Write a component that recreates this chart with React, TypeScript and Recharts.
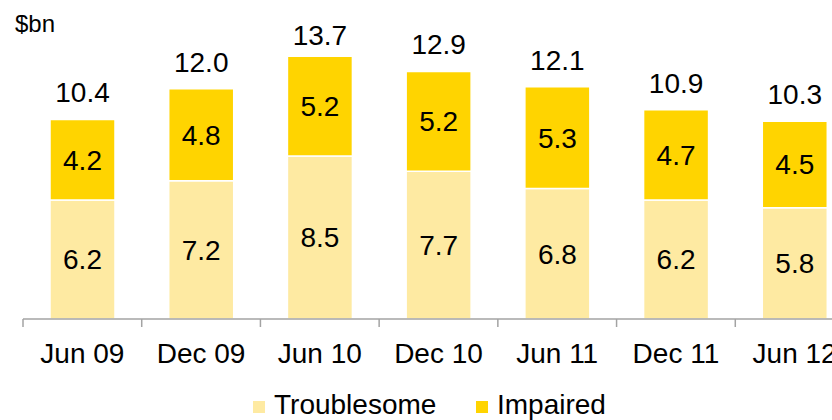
import { Bar, BarChart, LabelList, Legend, XAxis, YAxis } from "recharts"

const periods = ["Jun 09", "Dec 09", "Jun 10", "Dec 10", "Jun 11", "Dec 11", "Jun 12"]
const troublesome = [6.2, 7.2, 8.5, 7.7, 6.8, 6.2, 5.8]
const impaired = [4.2, 4.8, 5.2, 5.2, 5.3, 4.7, 4.5]
const totals = [10.4, 12.0, 13.7, 12.9, 12.1, 10.9, 10.3]
const seriesNames = ["Troublesome", "Impaired"]

const data = periods.map((period, i) => ({
  period,
  troublesome: troublesome[i],
  impaired: impaired[i],
  total: totals[i],
}))

const FONT = '"Liberation Sans", Arial, Helvetica, sans-serif'
const LIGHT = "#FEEAA2"
const GOLD = "#FFD400"
const AXIS = "#a3a3a3"

const CHART_W = 860
const CHART_H = 420
const MARGIN = { top: 12, right: 6, left: 23, bottom: 0 }
const BAND = (CHART_W - MARGIN.left - MARGIN.right) / periods.length

const CategoryTick = (props: any) => {
  const { x, y, payload } = props
  const edge = x - BAND / 2
  return (
    <g>
      <line x1={edge} x2={edge} y1={y} y2={y + 8} stroke={AXIS} strokeWidth={1.5} />
      <text x={x} y={y + 44} textAnchor="middle" fill="#000" fontSize={28} fontFamily={FONT}>
        {payload.value}
      </text>
    </g>
  )
}

const TotalLabel = (props: any) => {
  const { x, y, width, value } = props
  // keep the label inside the top of the plot like the original
  const baseline = Math.max(Number(y) - 17, 45)
  return (
    <text x={Number(x) + Number(width) / 2} y={baseline} textAnchor="middle" fill="#000" fontSize={28} fontFamily={FONT}>
      {Number(value).toFixed(1)}
    </text>
  )
}

const legendX = [253, 476]

const LegendContent = (props: any) => {
  const items = [...(props.payload || [])].sort(
    (a: any, b: any) => seriesNames.indexOf(a.value) - seriesNames.indexOf(b.value)
  )
  return (
    <div style={{ position: "relative", width: 832, height: 420 }}>
      {items.map((entry: any, i: number) => (
        <div key={entry.value} style={{ position: "absolute", left: legendX[i], top: 395 }}>
          <span
            style={{
              position: "absolute",
              left: 0,
              top: 6,
              width: 12,
              height: 12,
              background: entry.color,
            }}
          />
          <span
            style={{
              position: "absolute",
              left: 21,
              top: -6,
              fontFamily: FONT,
              fontSize: 28,
              lineHeight: "32px",
              color: "#000",
              whiteSpace: "nowrap",
            }}
          >
            {entry.value}
          </span>
        </div>
      ))}
    </div>
  )
}

export default function App() {
  return (
    <div
      style={{
        position: "fixed",
        left: 0,
        top: 0,
        width: 832,
        height: 420,
        overflow: "hidden",
        background: "#fff",
      }}
    >
      <span
        style={{
          position: "absolute",
          left: 15,
          top: 10,
          fontFamily: FONT,
          fontSize: 24,
          lineHeight: "28px",
          color: "#000",
          zIndex: 2,
        }}
      >
        $bn
      </span>
      <BarChart width={CHART_W} height={CHART_H} data={data} margin={MARGIN}>
        <XAxis
          dataKey="period"
          height={101}
          interval={0}
          tickLine={false}
          tickSize={0}
          tickMargin={0}
          axisLine={{ stroke: AXIS, strokeWidth: 1.5 }}
          tick={<CategoryTick />}
        />
        <YAxis hide domain={[0, 16]} />
        <Legend
          layout="horizontal"
          verticalAlign="middle"
          align="center"
          wrapperStyle={{ position: "absolute", left: 0, top: 0, width: 832, height: 420, pointerEvents: "none" }}
          content={<LegendContent />}
        />
        <Bar
          dataKey="troublesome"
          name={seriesNames[0]}
          stackId="a"
          fill={LIGHT}
          stroke="#fff"
          strokeWidth={1.5}
          barSize={65}
          isAnimationActive={false}
        >
          <LabelList dataKey="troublesome" position="center" fill="#000" fontSize={28} fontFamily={FONT} />
        </Bar>
        <Bar
          dataKey="impaired"
          name={seriesNames[1]}
          stackId="a"
          fill={GOLD}
          stroke="#fff"
          strokeWidth={1.5}
          barSize={65}
          isAnimationActive={false}
        >
          <LabelList dataKey="impaired" position="center" fill="#000" fontSize={28} fontFamily={FONT} />
          <LabelList dataKey="total" content={<TotalLabel />} />
        </Bar>
      </BarChart>
    </div>
  )
}
